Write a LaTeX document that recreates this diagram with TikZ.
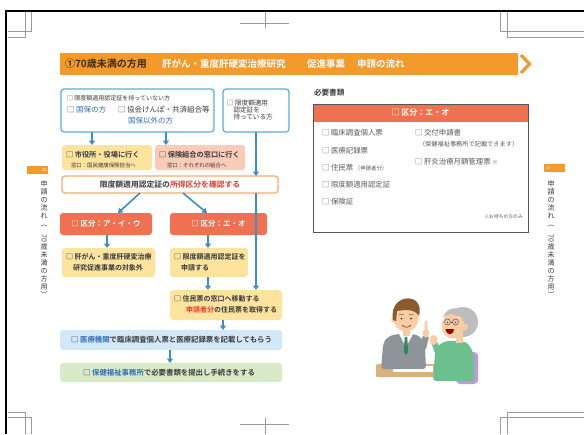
\documentclass[tikz,border=0pt]{standalone}
\usepackage{fontspec}
\usepackage{graphicx}
\setmainfont{Noto Sans CJK JP}[BoldFont={Noto Sans CJK JP Bold}]
\usetikzlibrary{arrows.meta,calc}

\definecolor{hdr}{HTML}{F39A2B}
\definecolor{hdrdark}{HTML}{3B2A12}
\definecolor{ink}{HTML}{3A3A3A}
\definecolor{softink}{HTML}{5A5A5A}
\definecolor{lineblue}{HTML}{5AAEDF}
\definecolor{arrblue}{HTML}{3C8DC9}
\definecolor{yel}{HTML}{FCE39E}
\definecolor{pink}{HTML}{F9CBB9}
\definecolor{limline}{HTML}{F2AE6A}
\definecolor{kubun}{HTML}{EE7252}
\definecolor{skyfill}{HTML}{D3E8F7}
\definecolor{greenfill}{HTML}{D9EAC8}
\definecolor{redtxt}{HTML}{E83A2A}
\definecolor{bluetxt}{HTML}{2F6DB8}
\definecolor{boxgray}{HTML}{555555}
\definecolor{markgray}{HTML}{9A9A9A}
\definecolor{hair}{HTML}{8C5A2E}
\definecolor{skin}{HTML}{F8CDA4}
\definecolor{suit}{HTML}{8D959B}
\definecolor{tie}{HTML}{2E8A55}
\definecolor{sweater}{HTML}{6CC08E}
\definecolor{grayhair}{HTML}{BDBDBD}
\definecolor{chair}{HTML}{BA9CD3}
\definecolor{tablec}{HTML}{D9B27B}

\newcommand{\fs}[1]{\fontsize{#1}{#1}\selectfont}
\newcommand{\vstack}{申\\請\\の\\流\\れ\\︵\\\rotatebox{-90}{70}\\歳\\未\\満\\の\\方\\用\\︶}

\tikzset{
  txt/.style={inner sep=0pt, outer sep=0pt, anchor=west, text=ink},
  frame/.style={rounded corners=3pt, inner sep=0pt, outer sep=0pt},
  arr/.style={draw=arrblue, line width=1.6pt, -{Triangle[width=6pt,length=4.5pt]}},
  cropmark/.style={draw=markgray, line width=0.5pt},
}

\begin{document}
\begin{tikzpicture}[x=1pt,y=-1pt]
\useasboundingbox (0,0) rectangle (584,434);
\fill[white] (0,0) rectangle (584,434);

% page edges and printer marks
\draw[black, line width=2.6pt] (6,434) -- (6,11) -- (584,11);
\draw[cropmark] (8,31) -- (31,31) -- (31,12);
\draw[cropmark] (8,37) -- (25,37) -- (25,12);
\draw[cropmark] (8,412) -- (25,412) -- (25,434);
\draw[cropmark] (8,417) -- (31,417) -- (31,434);
\draw[cropmark] (240,23) -- (289,23); \draw[cropmark] (265,12) -- (265,28);
\draw[cropmark] (240,424) -- (289,424); \draw[cropmark] (265,418) -- (265,434);
\draw[cropmark] (500,12) -- (500,31) -- (584,31);
\draw[cropmark] (507,12) -- (507,37) -- (584,37);
\draw[cropmark] (507,434) -- (507,412) -- (584,412);
\draw[cropmark] (500,434) -- (500,417) -- (584,417);

% title bar
\node[fill=hdr, minimum width=458, minimum height=22, inner sep=0pt, anchor=north west] (bar) at (60,53) {};
\draw[hdr, line width=3.2pt, line join=miter] (521,55) -- (529.5,64) -- (521,73);
\node[txt, font=\bfseries\fs{10}, text=hdrdark] (h1) at (65,64) {①70歳未満の方用};
\node[txt, font=\bfseries\fs{9.5}, text=white] (h2) at (162,64) {肝がん・重度肝硬変治療研究};
\node[txt, font=\bfseries\fs{9.5}, text=white] (h3) at (307,64) {促進事業};
\node[txt, font=\bfseries\fs{9.5}, text=white] (h4) at (357,64) {申請の流れ};

% side tabs
\node[fill=hdr, minimum width=21, minimum height=8, inner sep=0pt, anchor=north west] (tabL) at (27,166) {};
\node[font=\fs{4}, text=white, inner sep=0pt, anchor=east] (tabLn) at (47,170) {26};
\node[font=\fontsize{7}{8.1}\selectfont, text=ink, align=center, inner sep=0pt, anchor=north] (sideL) at (44,180) {\vstack};
\node[fill=hdr, minimum width=21, minimum height=8, inner sep=0pt, anchor=north west] (tabR) at (544,164) {};
\node[font=\fs{4}, text=white, inner sep=0pt, anchor=west] (tabRn) at (546,168) {27};
\node[font=\fontsize{7}{8.1}\selectfont, text=ink, align=center, inner sep=0pt, anchor=north] (sideR) at (551,180) {\vstack};

% ---------- flow chart ----------
\node[frame, draw=lineblue, line width=1.2pt, fill=white, minimum width=153, minimum height=43] (nocert) at (137.5,110.5) {};
\node[txt, font=\fs{6}] (t1) at (67,98) {□ 限度額適用認定証を持っていない方};
\node[txt, font=\fs{7.5}] (t2) at (67,110) {□ \textcolor{bluetxt}{国保の方}};
\node[txt, font=\fs{7.5}] (t3) at (118,110) {□ 協会けんぽ・共済組合等};
\node[txt, font=\fs{7.5}, text=bluetxt] (t4) at (128,120.5) {国保以外の方};

\node[frame, draw=lineblue, line width=1.2pt, fill=white, minimum width=66, minimum height=43] (hascert) at (256,110.5) {};
\node[txt, font=\fs{6.6}, align=left] (t5) at (227,110) {□ 限度額適用\\\hspace*{6.5pt}認定証を\\\hspace*{6.5pt}持っている方};

\node[frame, fill=yel, minimum width=90, minimum height=25] (city) at (107,157.5) {};
\node[txt, font=\bfseries\fs{7.2}] (t6) at (66,154.5) {□ 市役所・役場に行く};
\node[txt, font=\fs{5.4}] (t7) at (71,165) {窓口：国民健康保険担当へ};

\node[frame, fill=pink, minimum width=90, minimum height=25] (union) at (200,157.5) {};
\node[txt, font=\bfseries\fs{7.2}] (t8) at (159,154.5) {□ 保険組合の窓口に行く};
\node[txt, font=\fs{5.4}] (t9) at (167,165) {窓口：それぞれの組合へ};

\node[frame, draw=limline, line width=1.2pt, fill=white, minimum width=216, minimum height=17] (check) at (170,184.5) {};
\node[font=\bfseries\fs{7.8}, text=ink, inner sep=0pt] (t10) at (170,184.5) {限度額適用認定証の\textcolor{redtxt}{所得区分を確認する}};

\node[frame, fill=kubun, minimum width=92, minimum height=22] (kuA) at (106,224) {};
\node[font=\bfseries\fs{7.5}, text=white, inner sep=0pt] (t11) at (106,224) {□ 区分：ア・イ・ウ};
\node[frame, fill=kubun, minimum width=97, minimum height=22] (kuB) at (218.5,224) {};
\node[font=\bfseries\fs{7.5}, text=white, inner sep=0pt] (t12) at (218.5,224) {□ 区分：エ・オ};

\node[frame, fill=yel, minimum width=93, minimum height=29] (outside) at (108.5,262.5) {};
\node[txt, font=\bfseries\fs{7}] (t13) at (66,257) {□ 肝がん・重度肝硬変治療};
\node[txt, font=\bfseries\fs{7}] (t14) at (73,267.5) {研究促進事業の対象外};

\node[frame, fill=yel, minimum width=78, minimum height=29] (apply) at (209,262.5) {};
\node[txt, font=\bfseries\fs{7}] (t15) at (174,257) {□ 限度額適用認定証を};
\node[txt, font=\bfseries\fs{7}] (t16) at (181,267.5) {申請する};

\node[frame, fill=yel, minimum width=112, minimum height=30] (resid) at (226,305) {};
\node[txt, font=\bfseries\fs{7}] (t17) at (174,299) {□ 住民票の窓口へ移動する};
\node[txt, font=\bfseries\fs{7}] (t18) at (186,310) {\textcolor{redtxt}{申請者分}の住民票を取得する};

\node[frame, fill=skyfill, minimum width=222, minimum height=20] (clinic) at (171,340) {};
\node[font=\bfseries\fs{7.4}, text=ink, inner sep=0pt] (t19) at (171.5,340) {□ \textcolor{bluetxt}{医療機関}で臨床調査個人票と医療記録票を記載してもらう};

\node[frame, fill=greenfill, minimum width=222, minimum height=19] (office) at (171,372.5) {};
\node[font=\bfseries\fs{7.4}, text=ink, inner sep=0pt] (t20) at (169,372.5) {□ \textcolor{bluetxt}{保健福祉事務所}で必要書類を提出し手続きをする};

% connectors
\draw[arr] (nocert.south -| 92,0) -- (city.north -| 92,0);
\draw[arr] (nocert.south -| 166,0) -- (union.north -| 166,0);
\draw[arr] (hascert.south) -- (check.north -| hascert.south);
\draw[arr] (check.south -| 140,0) -- (kuA.north -| 118,0);
\draw[arr] (check.south -| 183,0) -- (kuB.north -| 207,0);
\draw[arr] (check.south -| hascert.south) -- (resid.north -| hascert.south);
\draw[arr] (kuA.south -| 107,0) -- (outside.north -| 107,0);
\draw[arr] (kuB.south -| 208,0) -- (apply.north -| 208,0);
\draw[arr] (apply.south -| 208,0) -- (resid.north -| 208,0);
\draw[arr] (resid.south -| 223,0) -- (clinic.north -| 223,0);
\draw[arr] (clinic.south -| 170,0) -- (office.north -| 170,0);

% ---------- required documents ----------
\node[txt, font=\bfseries\fs{7.6}] (docttl) at (314,93) {必要書類};
\node[fill=kubun, minimum width=215, minimum height=18, inner sep=0pt, anchor=north west] (docsh) at (313,104) {};
\node[draw=boxgray, line width=0.7pt, minimum width=215, minimum height=128, inner sep=0pt, anchor=north west] (docs) at (313,104) {};
\node[font=\bfseries\fs{8}, text=white, inner sep=0pt] (dh) at (420.5,113) {□ 区分：エ・オ};
\node[txt, font=\fs{7.4}, text=softink] (d1) at (322,133) {□ 臨床調査個人票};
\node[txt, font=\fs{7.4}, text=softink] (d2) at (322,150.5) {□ 医療記録票};
\node[txt, font=\fs{7.4}, text=softink] (d3) at (322,168) {□ 住民票 {\fs{5.4}（申請者分）}};
\node[txt, font=\fs{7.4}, text=softink] (d4) at (322,185) {□ 限度額適用認定証};
\node[txt, font=\fs{7.4}, text=softink] (d5) at (322,202) {□ 保険証};
\node[txt, font=\fs{7.4}, text=softink] (d6) at (415,133) {□ 交付申請書};
\node[txt, font=\fs{6.2}, text=softink] (d7) at (419,144.5) {（保健福祉事務所で記載できます）};
\node[txt, font=\fs{7.4}, text=softink] (d8) at (415,162) {□ 肝炎治療月額管理票 {\fs{5.4}※}};
\node[font=\fs{4.8}, text=softink, inner sep=0pt, anchor=east] (d9) at (523,217) {※お持ちの方のみ};

% ---------- consultation illustration ----------
% table and paper
\fill[tablec, rounded corners=1pt] (376,364) rectangle (470,377);
\fill[white] (393,366) rectangle (433,372);
% staff member
\fill[suit, rounded corners=3pt] (381,369) -- (383,346) .. controls (385,338) and (391,335) .. (399,334) -- (413,334) .. controls (420,336) and (424,341) .. (425,347) -- (426,369) -- cycle;
\fill[white] (399,334) -- (406,347) -- (413,334) -- cycle;
\fill[tie] (404.8,337) -- (407.2,337) -- (408.2,352) -- (406,355) -- (403.8,352) -- cycle;
\fill[suit] (419,347) -- (423,336) -- (429,337) -- (426,349) -- cycle;
\fill[skin] (426,333) ellipse [x radius=3.2pt, y radius=4.5pt];
\fill[skin, rounded corners=1pt] (424.6,320.5) rectangle (427.4,331);
\fill[skin] (402.5,329) rectangle (409.5,336);
\fill[skin] (406,318) ellipse [x radius=12.5pt, y radius=13.5pt];
\fill[skin] (393.8,320) circle (2.6pt);
\fill[hair] (393,320) .. controls (390,304) and (402,296) .. (412,299) .. controls (419,301) and (421,308) .. (419,316) .. controls (414,308) and (404,310) .. (397,311) -- (396,321) -- cycle;
\fill[ink] (401.5,318.5) circle (1pt);
\fill[ink] (411,318.5) circle (1pt);
\draw[ink, line width=0.4pt] (398.5,315) -- (403.5,314.5);
\draw[ink, line width=0.4pt] (409,314.5) -- (414,315);
\draw[hair!70!black, line width=0.6pt] (402,325) .. controls (405,328) and (408,328) .. (411,325);
% customer
\fill[chair, rounded corners=4pt] (456,352) rectangle (478,384);
\fill[sweater, rounded corners=3pt] (433,381) -- (435,353) .. controls (437,345) and (444,341) .. (452,341) -- (461,341) .. controls (469,343) and (473,350) .. (474,360) -- (474,381) -- cycle;
\fill[sweater] (441,350) -- (436,340) -- (431,342) -- (436,356) -- cycle;
\fill[skin] (433.5,340) ellipse [x radius=4pt, y radius=5pt];
\fill[grayhair] (463,322) ellipse [x radius=15pt, y radius=15pt];
\fill[skin] (456,333) rectangle (463,343);
\fill[skin] (453,326) ellipse [x radius=11.5pt, y radius=12.5pt];
\fill[grayhair] (443,318) .. controls (445,309) and (455,306) .. (462,310) -- (458,316) .. controls (452,313) and (447,314) .. (443,318) -- cycle;
\fill[skin] (465,327) circle (3pt);
\draw[boxgray, line width=0.5pt] (447.5,322) circle (3pt);
\draw[boxgray, line width=0.5pt] (455.5,322) circle (3pt);
\draw[boxgray, line width=0.5pt] (450.5,322) -- (452.5,322);
\fill[ink] (447.5,322.3) circle (0.8pt);
\fill[ink] (455.5,322.3) circle (0.8pt);
\fill[red!60!black] (445.5,329) .. controls (447,336) and (453,336) .. (454,329) -- cycle;
\end{tikzpicture}
\end{document}
